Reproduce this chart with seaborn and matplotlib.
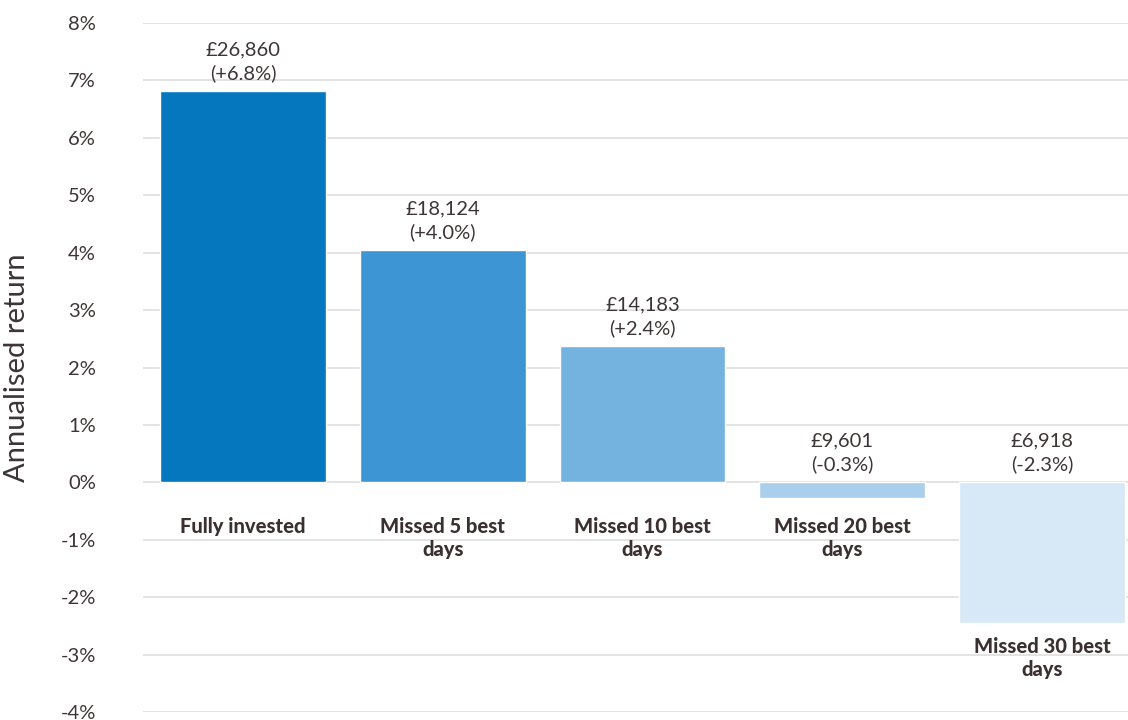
import matplotlib
matplotlib.use("Agg")
import matplotlib.pyplot as plt
import seaborn as sns
import pandas as pd

categories = ["Fully invested", "Missed 5 best\ndays", "Missed 10 best\ndays",
              "Missed 20 best\ndays", "Missed 30 best\ndays"]
returns = [6.82, 4.05, 2.37, -0.28, -2.45]
value_labels = ["£26,860\n(+6.8%)", "£18,124\n(+4.0%)", "£14,183\n(+2.4%)",
                "£9,601\n(-0.3%)", "£6,918\n(-2.3%)"]
colors = ["#0477bf", "#3d96d3", "#74b3e0", "#a9cfec", "#d7e8f6"]
yticks = [-4, -3, -2, -1, 0, 1, 2, 3, 4, 5, 6, 7, 8]

sns.set_theme(style="white")
plt.rcParams["font.family"] = ["Lato", "DejaVu Sans"]

df = pd.DataFrame({"cat": categories, "ret": returns})

fig = plt.figure(figsize=(11.28, 7.2), dpi=100)
ax = fig.add_axes([0.1268, 0.0110, 0.8732, 0.9570])

sns.barplot(data=df, x="cat", y="ret", hue="cat", palette=colors, legend=False,
            width=0.83, ax=ax, saturation=1)

ax.set_ylim(-4, 8)
ax.set_xlim(-0.5, 4.43)
ax.set_yticks(yticks)
ax.set_yticklabels([f"{t}%" for t in yticks], fontsize=14.5, color="#3d3535")
ax.set_xticks([])
ax.set_xlabel("")
ax.set_ylabel("Annualised return", fontsize=21, color="#3d3535", labelpad=22)
ax.tick_params(axis="y", length=0, pad=34)
ax.yaxis.grid(True, color="#e0e0e0", linewidth=1.3)
ax.set_axisbelow(True)
for s in ax.spines.values():
    s.set_visible(False)

for i, (v, vl, cat) in enumerate(zip(returns, value_labels, categories)):
    ax.annotate(vl, xy=(i, max(v, 0)), xytext=(0, 9), textcoords="offset pixels",
                ha="center", va="bottom", fontsize=14.5, color="#3d3535",
                linespacing=1.4)
    ypos = min(v - 0.25, -0.6)
    ax.text(i, ypos, cat, ha="center", va="top", fontsize=14.5,
            fontweight=900, color="#3a3030", linespacing=1.25)

fig.savefig("out.png", dpi=100)
